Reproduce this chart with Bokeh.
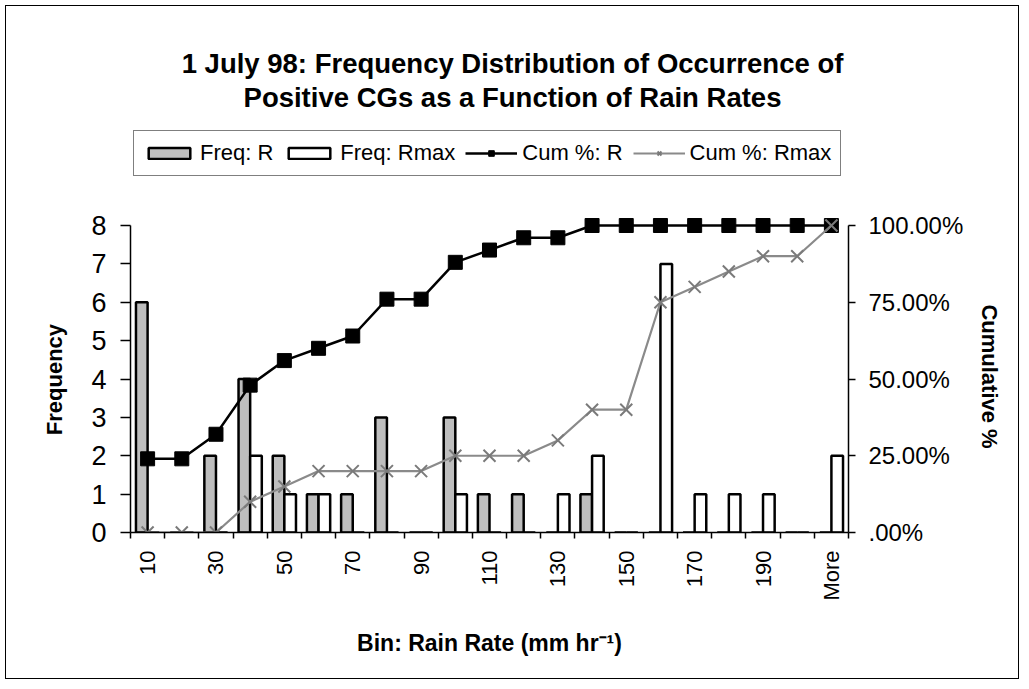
from bokeh.plotting import figure
from bokeh.models import (Range1d, LinearAxis, FixedTicker, Legend, LegendItem,
                          Label, ColumnDataSource)
from bokeh.transform import dodge
from bokeh.embed import file_html
from bokeh.resources import INLINE

# ---- data ----
bins = ["10", "20", "30", "40", "50", "60", "70", "80", "90", "100", "110",
        "120", "130", "140", "150", "160", "170", "180", "190", "200", "More"]
freq_r = [6, 0, 2, 4, 2, 1, 1, 3, 0, 3, 1, 1, 0, 1, 0, 0, 0, 0, 0, 0, 0]
freq_rmax = [0, 0, 0, 2, 1, 1, 0, 0, 0, 1, 0, 0, 1, 2, 0, 7, 1, 1, 1, 0, 2]
cum_r = [24, 24, 32, 48, 56, 60, 64, 76, 76, 88, 92, 96, 96, 100, 100, 100,
         100, 100, 100, 100, 100]
cum_rmax = [0, 0, 0, 10, 15, 20, 20, 20, 20, 25, 25, 25, 30, 40, 40, 75, 80,
            85, 90, 90, 100]
pct_ticks = [0, 25, 50, 75, 100]
pct_labels = [".00%", "25.00%", "50.00%", "75.00%", "100.00%"]
freq_ticks = [0, 1, 2, 3, 4, 5, 6, 7, 8]
title_lines = ["1 July 98: Frequency Distribution of Occurrence of",
               "Positive CGs as a Function of Rain Rates"]

FONT = "Liberation Sans"
NBSP = "\u00a0"

# layout (pixels): the frame spans the whole upper area; the axes are bounded
W, H = 1024, 684
FRAME_H = 532          # frame from the top of the canvas down to the x axis
AXIS_PX = 307          # pixel height of the 0..8 axis
fmax = freq_ticks[-1]
pmax = pct_ticks[-1]
y_end = fmax * FRAME_H / AXIS_PX
p_end = pmax * FRAME_H / AXIS_PX

idx = list(range(len(bins)))
src = ColumnDataSource(dict(idx=idx, freq_r=freq_r, freq_rmax=freq_rmax,
                            cum_r=cum_r, cum_rmax=cum_rmax))

p = figure(width=W, height=H,
           x_range=Range1d(-0.5, len(bins) - 0.5), y_range=Range1d(0, y_end),
           output_backend="svg", toolbar_location=None,
           min_border_left=130, min_border_right=176,
           min_border_top=0, min_border_bottom=H - FRAME_H,
           x_axis_type=None, y_axis_type=None)
p.extra_y_ranges = {"pct": Range1d(0, p_end)}
p.styles = {"outline": "1.5px solid black", "outline-offset": "-6px",
            "background-color": "white"}
p.border_fill_alpha = 0
p.background_fill_alpha = 0
p.outline_line_color = None

# ---- axes ----
xaxis = LinearAxis(ticker=FixedTicker(ticks=idx[::2],
                                      minor_ticks=[i - 0.5 for i in range(len(bins) + 1)]))
xaxis.major_label_overrides = {i: bins[i] for i in idx[::2]}
xaxis.major_label_orientation = 3.14159265 / 2
xaxis.major_tick_out = 0
xaxis.major_tick_in = 0
xaxis.minor_tick_out = 6
xaxis.minor_tick_in = 0
xaxis.minor_tick_line_color = "black"
xaxis.minor_tick_line_width = 1.5
xaxis.axis_line_width = 1.5
xaxis.major_label_standoff = 12
xaxis.major_label_text_font = FONT
xaxis.major_label_text_font_size = "22px"
xaxis.major_label_text_color = "black"
xaxis.axis_label = "Bin: Rain Rate (mm hr\u207b\u00b9)"
xaxis.axis_label_text_font = FONT
xaxis.axis_label_text_font_style = "bold"
xaxis.axis_label_text_font_size = "23px"
xaxis.axis_label_text_color = "black"
xaxis.axis_label_standoff = 26
p.add_layout(xaxis, "below")

yaxis = LinearAxis(ticker=FixedTicker(ticks=freq_ticks, minor_ticks=[]),
                   bounds=(0, fmax))
yaxis.major_tick_out = 10
yaxis.major_tick_in = 0
yaxis.major_tick_line_width = 1.5
yaxis.axis_line_width = 1.5
yaxis.major_label_standoff = 14
yaxis.major_label_text_font = FONT
yaxis.major_label_text_font_size = "27px"
yaxis.major_label_text_color = "black"
# trailing no-break spaces move the label down to the middle of the bounded axis
yaxis.axis_label = "Frequency" + NBSP * 37
yaxis.axis_label_text_font = FONT
yaxis.axis_label_text_font_style = "bold"
yaxis.axis_label_text_font_size = "22px"
yaxis.axis_label_text_color = "black"
yaxis.axis_label_standoff = 21
p.add_layout(yaxis, "left")

raxis = LinearAxis(y_range_name="pct", ticker=FixedTicker(ticks=pct_ticks, minor_ticks=[]),
                   bounds=(0, pmax))
raxis.major_label_overrides = dict(zip(pct_ticks, pct_labels))
raxis.major_tick_out = 7
raxis.major_tick_in = 0
raxis.major_tick_line_width = 1.5
raxis.axis_line_width = 1.5
raxis.major_label_standoff = 13
raxis.major_label_text_font = FONT
raxis.major_label_text_font_size = "24px"
raxis.major_label_text_color = "black"
raxis.axis_label = NBSP * 36 + "Cumulative %"
raxis.axis_label_text_font = FONT
raxis.axis_label_text_font_style = "bold"
raxis.axis_label_text_font_size = "22px"
raxis.axis_label_text_color = "black"
raxis.axis_label_standoff = 11
p.add_layout(raxis, "right")

p.ygrid.ticker = FixedTicker(ticks=freq_ticks)
p.ygrid.grid_line_color = "black"
p.ygrid.grid_line_width = 1.2
p.xgrid.visible = False

# ---- glyphs ----
bars_r = p.vbar(x=dodge("idx", -0.17, range=p.x_range), top="freq_r", width=0.34,
                source=src, fill_color="#bebebe", line_color="black", line_width=2.5)
bars_rm = p.vbar(x=dodge("idx", 0.17, range=p.x_range), top="freq_rmax", width=0.34,
                 source=src, fill_color="white", line_color="black", line_width=2.5)

line_r = p.line("idx", "cum_r", source=src, y_range_name="pct",
                line_color="black", line_width=2.5)
sq_r = p.scatter("idx", "cum_r", source=src, y_range_name="pct", marker="square",
                 size=14, fill_color="black", line_color="black")
line_rm = p.line("idx", "cum_rmax", source=src, y_range_name="pct",
                 line_color="#8a8a8a", line_width=2.2)
x_rm = p.scatter("idx", "cum_rmax", source=src, y_range_name="pct", marker="x",
                 size=17, line_color="#7a7a7a", line_width=2)

# ---- legend (inside the frame, above the bounded axes) ----
legend = Legend(items=[
    LegendItem(label="Freq: R", renderers=[bars_r]),
    LegendItem(label="Freq: Rmax", renderers=[bars_rm]),
    LegendItem(label="Cum %: R", renderers=[line_r, sq_r]),
    LegendItem(label="Cum %: Rmax", renderers=[line_rm, x_rm]),
], orientation="horizontal", location=(3, 356))
legend.label_text_font = FONT
legend.label_text_font_size = "22px"
legend.label_text_color = "black"
legend.glyph_width = 52
legend.glyph_height = 14
legend.label_standoff = 5
legend.spacing = 10
legend.padding = 9
legend.margin = 0
legend.border_line_color = "black"
legend.border_line_width = 1.5
legend.background_fill_color = "white"
legend.background_fill_alpha = 1.0
p.add_layout(legend, "center")

# ---- title (two lines) ----
for txt, yy in [(title_lines[0], 469), (title_lines[1], 435)]:
    p.add_layout(Label(x=382, y=yy, x_units="screen", y_units="screen", text=txt,
                       text_font=FONT, text_font_style="bold", text_font_size="27.5px",
                       text_align="center", text_baseline="alphabetic",
                       text_color="black"))

open("out.html", "w").write(file_html(p, INLINE))
